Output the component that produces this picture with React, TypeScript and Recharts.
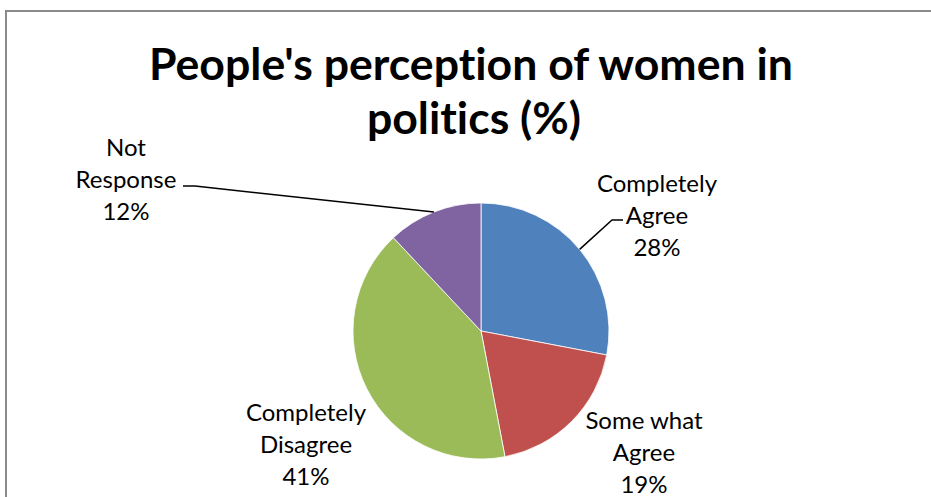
import { PieChart, Pie, Cell } from "recharts";

const categories = ["Completely Agree", "Some what Agree", "Completely Disagree", "Not Response"];
const values = [28, 19, 41, 12];
const labelLines = [
  ["Completely", "Agree"],
  ["Some what", "Agree"],
  ["Completely", "Disagree"],
  ["Not", "Response"],
];
const colors = ["#4F81BD", "#C0504D", "#9BBB59", "#8064A2"];

const data = categories.map((name, i) => ({ name, value: values[i] }));

// label block centres relative to the pie centre, and leader elbows (if any)
const labelPos = [
  { dx: 176, dy: -117, leader: [[142, -111], [131, -111]] },
  { dx: 163, dy: 120, leader: null },
  { dx: -175, dy: 112, leader: null },
  { dx: -355, dy: -153, leader: [[-298, -145], [-286, -145]] },
];

const RAD = Math.PI / 180;
const FONT = "Lato, 'Open Sans', sans-serif";

const renderLabel = (props: any) => {
  const { cx, cy, midAngle, outerRadius, index, percent } = props;
  const pos = labelPos[index];
  const x = cx + pos.dx;
  const y = cy + pos.dy;
  const lines = [...labelLines[index], `${Math.round(percent * 100)}%`];
  let leader = null;
  if (pos.leader) {
    const ex = cx + outerRadius * Math.cos(-midAngle * RAD);
    const ey = cy + outerRadius * Math.sin(-midAngle * RAD);
    const pts = pos.leader.map(([a, b]) => `${cx + a},${cy + b}`).join(" ");
    leader = <polyline points={`${pts} ${ex},${ey}`} fill="none" stroke="#000" strokeWidth={1.5} />;
  }
  return (
    <g key={`lbl-${index}`}>
      {leader}
      {lines.map((t, k) => (
        <text
          key={k}
          x={x}
          y={y + (k - 1) * 32}
          textAnchor="middle"
          dominantBaseline="central"
          fontFamily={FONT}
          fontSize={24}
          fill="#000"
          style={{ fontVariantLigatures: "none" }}
        >
          {t}
        </text>
      ))}
    </g>
  );
};

export default function App() {
  return (
    <div style={{ position: "absolute", left: 0, top: 0, width: 931, height: 497, background: "#fff", overflow: "hidden" }}>
      <div style={{ position: "absolute", left: 5, top: 10, width: 940, height: 500, border: "2px solid #8a8a8a", boxSizing: "border-box" }} />
      <svg style={{ position: "absolute", left: 0, top: 0 }} width={931} height={160}>
        <text x={471} y={80} textAnchor="middle" fontFamily={FONT} fontWeight="bold" fontSize={44.6} fill="#000" style={{ fontVariantLigatures: "none" }}>
          People's perception of women in
        </text>
        <text x={474} y={134} textAnchor="middle" fontFamily={FONT} fontWeight="bold" fontSize={44.6} fill="#000" style={{ fontVariantLigatures: "none" }}>
          politics (%)
        </text>
      </svg>
      <div style={{ position: "absolute", left: 0, top: 0 }}>
        <PieChart width={931} height={497}>
          <Pie
            data={data}
            dataKey="value"
            nameKey="name"
            cx={476}
            cy={326}
            outerRadius={128}
            startAngle={90}
            endAngle={-270}
            stroke="#fff"
            strokeWidth={0.8}
            label={renderLabel}
            labelLine={false}
            isAnimationActive={false}
          >
            {data.map((d, i) => (
              <Cell key={d.name} fill={colors[i]} />
            ))}
          </Pie>
        </PieChart>
      </div>
    </div>
  );
}
